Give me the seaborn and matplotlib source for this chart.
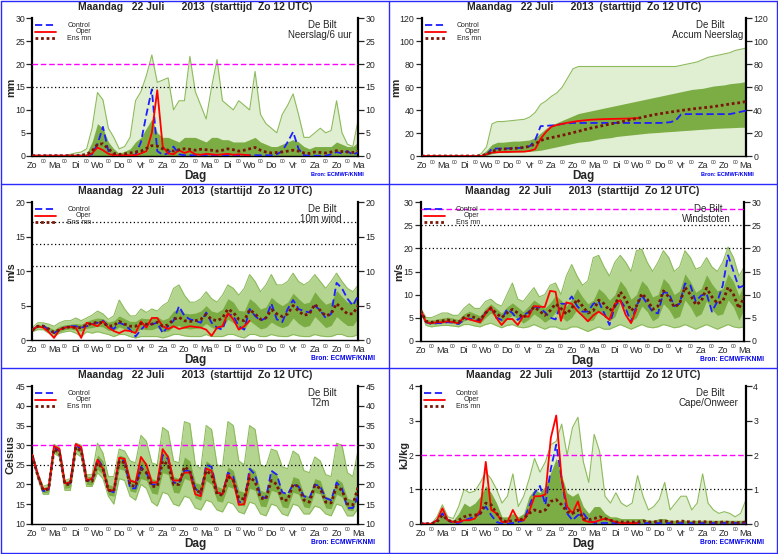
import numpy as np
import matplotlib
matplotlib.use("Agg")
import matplotlib.pyplot as plt
import seaborn as sns
from matplotlib.lines import Line2D

# ================================================================================
# Data (6-hourly steps from Zo 12 UTC, 0..360 h; Oper runs to 240 h)
# ================================================================================
HOURS      = np.arange(0, 361, 6)
OPER_HOURS = np.arange(0, 241, 6)
DAYS = ["Zo", "Ma", "Di", "Wo", "Do", "Vr", "Za", "Zo", "Ma", "Di", "Wo", "Do", "Vr", "Za", "Zo", "Ma"]
TITLE = "Maandag   22 Juli      2013  (starttijd  Zo 12 UTC)"

# Neerslag / 6 uur (mm)
RAIN_CONTROL = [0, 0, 0, 0, 0, 0, 0, 0, 0, 0,
                0, 0.3, 2.5, 6.3, 1.0, 0, 0, 0, 0, 0.2,
                3.0, 9.0, 14.5, 1.0, 0.2, 0.5, 2.0, 0.3, 0.1, 0.1,
                0.1, 0.1, 0.1, 0.1, 0.1, 0.1, 0.1, 0.1, 0.1, 0.1,
                0.1, 0.1, 0.1, 0.1, 0.1, 0.3, 1.0, 3.0, 5.2, 1.5,
                0.1, 0, 0, 0, 0, 0.3, 0.8, 0.5, 1.0, 0.2,
                0.8]
RAIN_OPER = [0, 0, 0, 0, 0, 0, 0, 0, 0, 0,
             0, 0.5, 1.8, 1.2, 0.4, 0.1, 0.1, 0.1, 0.1, 0.1,
             0.5, 1.0, 5.0, 14.3, 2.0, 0.5, 0.3, 1.2, 0.6, 1.0,
             0.3, 0.2, 0.4, 0.3, 0.2, 0.3, 0.4, 0.2, 0.3, 0.2,
             0.1]
RAIN_MEAN = [0, 0, 0, 0, 0, 0, 0, 0, 0, 0.1,
             0.3, 1.0, 2.5, 2.6, 1.5, 0.5, 0.3, 0.4, 0.6, 0.8,
             1.0, 1.6, 2.2, 2.1, 1.5, 1.2, 1.0, 1.3, 1.5, 1.4,
             1.2, 1.4, 1.3, 1.2, 1.0, 1.2, 1.5, 1.3, 1.0, 1.2,
             1.5, 1.8, 1.2, 0.8, 0.6, 0.7, 0.8, 1.0, 1.2, 1.0,
             0.6, 0.5, 0.8, 0.7, 0.6, 0.8, 1.1, 0.9, 0.8, 0.7,
             1.0]
RAIN_ENS_HI = [0, 0, 0, 0, 0, 0, 0, 0.3, 0.6, 0.8,
               1.5, 6.0, 13.8, 12.2, 6.0, 4.0, 1.5, 2.0, 4.0, 12.0,
               14.0, 17.5, 22.0, 16.0, 16.5, 17.0, 10.0, 12.0, 12.0, 21.7,
               14.0, 11.0, 8.0, 15.0, 21.0, 12.0, 11.0, 10.0, 12.0, 11.0,
               10.0, 18.4, 9.0, 7.0, 6.0, 5.0, 9.0, 11.0, 13.5, 9.0,
               4.0, 4.0, 5.0, 6.0, 5.0, 5.5, 12.0, 5.0, 2.5, 2.0,
               8.0]
RAIN_ENS_CORE = [0, 0, 0, 0, 0, 0, 0, 0, 0, 0,
                 0.5, 3.0, 7.0, 6.0, 3.0, 1.5, 0.5, 1.0, 1.5, 3.0,
                 4.0, 6.0, 8.0, 5.0, 4.0, 4.0, 3.5, 3.0, 4.0, 4.0,
                 4.0, 3.5, 3.0, 4.0, 4.0, 3.5, 3.5, 3.0, 3.0, 3.0,
                 3.5, 4.0, 3.0, 2.5, 2.0, 2.0, 2.5, 3.0, 3.5, 3.0,
                 2.0, 1.5, 2.0, 2.0, 2.0, 2.0, 3.0, 2.5, 2.0, 2.0,
                 3.0]

# Accumulated precipitation (mm)
ACC_CONTROL = [0, 0, 0, 0, 0, 0, 0, 0, 0, 0,
               0, 0, 1.0, 6.3, 6.5, 6.5, 6.6, 6.8, 7.0, 7.5,
               8.5, 14.0, 26.0, 26.3, 26.6, 27.0, 28.0, 28.5, 28.8, 28.8,
               28.8, 28.8, 28.8, 28.8, 28.8, 28.8, 28.8, 28.8, 28.8, 28.8,
               28.8, 28.8, 28.8, 28.8, 28.8, 29.0, 29.5, 31.0, 36.3, 36.5,
               36.5, 36.5, 36.5, 36.5, 36.5, 36.5, 36.5, 36.5, 37.5, 38.5,
               39.5]
ACC_OPER = [0, 0, 0, 0, 0, 0, 0, 0, 0, 0,
            0, 0, 1.5, 3.0, 3.3, 3.5, 3.6, 3.7, 3.8, 3.8,
            4.5, 6.0, 15.0, 21.0, 25.5, 27.0, 28.0, 29.0, 29.8, 30.5,
            31.0, 31.5, 31.8, 32.0, 32.2, 32.3, 32.4, 32.5, 32.6, 32.8,
            33.0]
ACC_MEAN = [0, 0, 0, 0, 0, 0, 0, 0, 0, 0,
            0, 0.3, 1.5, 4.0, 5.5, 6.0, 6.3, 6.6, 7.0, 7.5,
            8.5, 10.5, 13.5, 15.0, 16.0, 17.0, 18.0, 19.2, 20.4, 21.5,
            22.8, 24.0, 25.0, 26.0, 27.0, 28.0, 28.8, 29.8, 31.0, 32.0,
            32.8, 34.0, 35.0, 36.0, 36.8, 37.5, 38.3, 39.0, 39.7, 40.3,
            41.0, 41.5, 42.0, 42.5, 43.0, 43.8, 44.5, 45.3, 46.0, 46.5,
            47.5]
ACC_ENS_HI = [0, 0, 0, 0, 0, 0, 0, 0, 0, 0,
              0, 2.0, 8.0, 28.0, 30.0, 30.0, 30.5, 31.0, 31.5, 32.0,
              34.0, 38.0, 45.0, 48.0, 52.0, 55.0, 60.0, 68.0, 76.0, 78.0,
              78, 78, 78, 78, 78, 78, 78, 78, 78, 78,
              78, 78, 78, 78, 78, 78, 78, 78, 79, 80,
              81, 82, 84, 86, 87, 88, 89, 90, 92, 93,
              94]
ACC_CORE_LO = [0, 0, 0, 0, 0, 0, 0, 0, 0, 0,
               0, 0, 0.5, 2.0, 3.0, 3.0, 3.0, 3.5, 3.5, 4.0,
               4.0, 4.5, 5.0, 6.0, 7.0, 8.0, 9.0, 10.0, 11.0, 12.0,
               12.5, 13.0, 14.0, 15.0, 15.5, 16.0, 17.0, 17.5, 18.0, 18.5,
               19.0, 19.5, 20.0, 20.3, 20.6, 21.0, 21.3, 21.6, 22.0, 22.3,
               22.6, 23.0, 23.3, 23.6, 24.0, 24.2, 24.4, 24.6, 24.8, 25.0,
               25.0]
ACC_CORE_HI = [0, 0, 0, 0, 0, 0, 0, 0, 0, 0,
               0, 1.0, 5.0, 10.0, 12.0, 12.0, 12.5, 13.0, 13.0, 13.5,
               14.0, 16.0, 20.0, 24.0, 27.0, 29.0, 31.0, 33.0, 35.0, 37.0,
               38, 39, 40, 41, 42, 43, 44, 45, 46, 47,
               48, 49, 50, 51, 52, 53, 54, 55, 56, 57,
               58, 58.5, 59, 60, 61, 61.5, 62, 63, 63.5, 64,
               65]

# 10 m wind (m/s)
WIND_CONTROL = [1.5, 2.0, 2.1, 1.5, 1.0, 1.5, 1.8, 2.0, 2.0, 1.8,
                2.0, 2.3, 2.5, 2.8, 2.0, 1.6, 2.5, 2.2, 1.5, 0.5,
                1.5, 2.3, 2.3, 2.5, 1.0, 2.0, 2.8, 4.9, 3.5, 3.0,
                2.8, 2.5, 4.0, 2.5, 1.8, 1.5, 3.8, 3.5, 2.0, 1.5,
                4.5, 3.5, 2.8, 3.2, 5.3, 3.0, 2.6, 4.5, 5.8, 4.5,
                4.2, 4.0, 5.0, 4.3, 3.2, 3.8, 8.3, 7.5, 6.0, 5.0,
                6.5]
WIND_OPER = [1.5, 2.0, 1.8, 1.2, 0.3, 1.5, 1.8, 1.9, 1.8, 0.3,
             2.5, 2.3, 2.0, 2.7, 1.8, 1.3, 1.0, 1.4, 1.3, 1.0,
             2.7, 1.8, 3.2, 3.2, 2.0, 1.6, 2.0, 1.6, 1.8, 2.0,
             1.9, 1.8, 1.5, 0.6, 1.8, 2.0, 3.9, 3.0, 1.5, 2.0,
             2.8]
WIND_MEAN = [1.4, 2.0, 2.0, 1.6, 1.1, 1.5, 1.8, 1.9, 1.8, 1.8,
             2.2, 2.4, 2.6, 2.5, 2.0, 2.1, 2.7, 2.3, 2.0, 2.0,
             2.4, 2.3, 2.3, 2.6, 2.0, 2.2, 3.0, 3.3, 2.8, 2.7,
             2.8, 3.0, 3.7, 3.0, 2.8, 3.2, 4.5, 4.0, 3.0, 2.8,
             4.4, 3.8, 3.0, 3.2, 4.4, 3.8, 3.4, 3.8, 5.0, 4.2,
             3.6, 3.8, 5.2, 4.3, 3.5, 3.8, 5.3, 4.5, 3.8, 3.8,
             5.0]
WIND_ENS_HI = [1.8, 2.5, 2.5, 2.3, 2.0, 2.5, 2.8, 2.8, 3.2, 2.8,
               3.2, 3.6, 4.2, 3.8, 3.0, 3.5, 5.8, 4.5, 3.5, 3.5,
               4.5, 4.0, 4.5, 4.2, 5.0, 5.5, 7.5, 8.0, 6.5, 5.5,
               5.5, 6.0, 7.0, 6.0, 5.5, 6.5, 8.0, 7.5, 6.5, 7.5,
               9.5, 8.5, 7.0, 8.0, 9.5, 8.0, 8.0, 8.5, 9.7, 8.5,
               8.0, 8.5, 9.5, 8.5, 7.5, 8.5, 9.7, 8.5, 7.5, 7.0,
               8.0]
WIND_ENS_LO = [1.2, 1.5, 1.5, 1.0, 0.5, 1.0, 1.2, 1.3, 1.0, 0.5,
               1.2, 1.0, 1.2, 1.0, 0.8, 0.5, 0.8, 0.8, 0.5, 0.3,
               0.5, 0.5, 0.5, 0.5, 0.3, 0.5, 0.8, 0.8, 0.6, 0.5,
               0.5, 0.5, 0.8, 0.5, 0.5, 0.5, 0.8, 0.8, 0.5, 0.3,
               0.8, 0.8, 0.5, 0.5, 0.8, 0.6, 0.5, 0.5, 0.8, 0.6,
               0.5, 0.5, 0.8, 0.6, 0.5, 0.5, 0.8, 0.8, 0.5, 0.5,
               0.8]
WIND_CORE_HI = [1.6, 2.2, 2.2, 1.9, 1.5, 2.0, 2.2, 2.3, 2.4, 2.3,
                2.7, 3.0, 3.2, 3.1, 2.6, 2.8, 3.5, 3.1, 2.7, 2.7,
                3.2, 3.1, 3.1, 3.4, 2.9, 3.2, 4.2, 4.5, 3.9, 3.8,
                3.9, 4.2, 5.0, 4.2, 4.0, 4.5, 6.0, 5.5, 4.3, 4.2,
                6.0, 5.4, 4.5, 4.8, 6.2, 5.5, 5.0, 5.5, 6.8, 6.0,
                5.3, 5.5, 7.0, 6.0, 5.2, 5.5, 7.2, 6.3, 5.5, 5.5,
                6.8]
WIND_CORE_LO = [1.3, 1.8, 1.8, 1.3, 0.8, 1.2, 1.5, 1.6, 1.4, 1.3,
                1.7, 1.8, 2.0, 1.9, 1.4, 1.4, 1.9, 1.6, 1.3, 1.2,
                1.6, 1.5, 1.5, 1.8, 1.2, 1.3, 1.9, 2.1, 1.7, 1.6,
                1.7, 1.8, 2.4, 1.8, 1.6, 1.9, 3.0, 2.5, 1.7, 1.5,
                2.8, 2.2, 1.6, 1.8, 2.6, 2.1, 1.8, 2.1, 3.2, 2.4,
                1.9, 2.1, 3.4, 2.6, 1.8, 2.1, 3.4, 2.7, 2.1, 2.1,
                3.2]

# Windstoten (m/s)
GUST_CONTROL = [6.5, 4.0, 3.6, 3.8, 3.8, 4.0, 3.9, 3.6, 4.5, 4.8,
                4.5, 4.2, 6.0, 7.2, 5.0, 4.5, 6.8, 6.0, 4.5, 5.5,
                6.2, 7.4, 7.2, 6.2, 5.0, 4.6, 8.0, 8.0, 9.6, 7.5,
                6.3, 6.3, 8.0, 8.5, 6.0, 3.4, 7.5, 8.8, 7.0, 4.0,
                7.5, 9.8, 8.0, 6.3, 5.9, 10.5, 10.3, 7.5, 8.0, 12.4,
                12.0, 8.5, 9.8, 10.2, 6.3, 8.5, 12.0, 18.5, 15.0, 11.5,
                12.0]
GUST_OPER = [6.5, 4.0, 3.8, 4.0, 4.0, 4.2, 4.0, 3.8, 5.0, 4.6,
             4.3, 4.0, 5.8, 7.3, 5.0, 3.4, 4.7, 4.7, 3.4, 5.3,
             5.2, 7.5, 7.4, 7.3, 10.8, 10.6, 4.3, 8.3, 8.0, 6.5,
             5.4, 4.2, 5.5, 6.3, 5.5, 4.5, 8.0, 8.8, 5.6, 3.8,
             6.8]
GUST_MEAN = [6.5, 4.2, 4.0, 4.2, 4.3, 4.5, 4.3, 4.0, 5.0, 5.5,
             5.0, 4.5, 6.0, 7.0, 6.0, 5.0, 6.0, 6.8, 6.0, 5.0,
             6.0, 7.3, 6.5, 5.5, 6.5, 8.0, 7.0, 5.8, 7.0, 9.0,
             7.5, 6.0, 6.5, 8.8, 8.0, 6.5, 7.5, 10.6, 9.0, 6.5,
             7.5, 10.2, 9.0, 6.8, 7.5, 10.8, 9.5, 7.3, 8.0, 11.6,
             10.0, 7.8, 8.5, 11.4, 9.5, 8.1, 8.5, 11.6, 10.0, 7.0,
             9.6]
GUST_ENS_HI = [7.0, 5.0, 5.0, 5.5, 6.0, 6.0, 5.5, 5.5, 7.0, 8.0,
               7.0, 7.0, 8.5, 9.0, 8.0, 7.5, 10.0, 12.5, 9.0, 8.5,
               10.0, 11.5, 9.5, 10.0, 12.0, 12.5, 10.0, 14.0, 16.5, 14.0,
               12.0, 13.0, 18.0, 18.5, 16.0, 14.0, 17.0, 18.5, 17.0, 15.0,
               19.5, 19.8, 17.0, 15.0, 17.0, 19.5, 18.0, 15.0, 16.0, 19.5,
               18.0, 15.5, 16.0, 18.0, 16.0, 15.0, 17.0, 20.3, 18.0, 14.0,
               16.0]
GUST_ENS_LO = [6.2, 3.3, 3.0, 3.2, 3.3, 3.3, 3.2, 3.0, 3.5, 3.5,
               3.2, 3.0, 3.5, 3.8, 3.3, 2.8, 3.3, 3.5, 3.0, 2.8,
               3.0, 3.5, 3.0, 2.5, 3.0, 3.0, 2.5, 2.5, 3.0, 3.0,
               2.5, 2.0, 2.5, 3.0, 2.5, 2.5, 3.0, 3.5, 3.0, 2.5,
               3.0, 3.5, 3.0, 2.8, 3.0, 3.5, 3.2, 2.8, 3.0, 3.5,
               3.0, 2.5, 3.0, 3.5, 3.0, 2.5, 3.0, 3.5, 3.0, 2.8,
               3.0]
GUST_CORE_HI = [6.7, 4.6, 4.4, 4.7, 4.9, 5.1, 4.9, 4.6, 5.8, 6.4,
                5.9, 5.4, 7.0, 8.0, 7.0, 6.0, 7.3, 8.2, 7.3, 6.3,
                7.5, 8.8, 8.0, 7.0, 8.2, 9.8, 8.8, 7.5, 9.0, 11.3,
                9.5, 8.0, 8.8, 11.3, 10.3, 8.8, 10.0, 13.0, 11.5, 9.0,
                10.0, 13.0, 11.8, 9.5, 10.0, 13.5, 12.3, 10.0, 10.8, 14.5,
                12.8, 10.5, 11.3, 14.3, 12.3, 10.8, 11.3, 14.5, 12.8, 9.8,
                12.5]
GUST_CORE_LO = [6.3, 3.8, 3.6, 3.7, 3.8, 4.0, 3.8, 3.5, 4.3, 4.7,
                4.2, 3.7, 5.0, 6.0, 5.0, 4.0, 4.8, 5.5, 4.8, 3.8,
                4.6, 5.8, 5.0, 4.0, 4.8, 6.2, 5.3, 4.2, 5.0, 6.8,
                5.5, 4.2, 4.5, 6.5, 5.8, 4.3, 5.2, 8.2, 6.6, 4.2,
                5.0, 7.5, 6.3, 4.3, 5.0, 8.0, 6.8, 4.8, 5.3, 8.8,
                7.3, 5.2, 5.8, 8.6, 6.8, 5.5, 5.8, 8.8, 7.3, 4.5,
                6.8]

# T2m (Celsius)
T2M_CONTROL = [27.5, 22.5, 18.3, 18.5, 29.5, 28.5, 20.0, 20.3, 30.0, 29.0,
               21.0, 21.0, 26.5, 24.5, 18.5, 18.0, 26.5, 26.0, 19.0, 19.0,
               24.5, 23.0, 20.0, 20.0, 27.5, 26.5, 20.5, 20.3, 23.5, 23.5,
               19.0, 17.5, 25.0, 24.5, 18.0, 17.5, 23.0, 22.0, 15.5, 15.5,
               24.0, 22.5, 17.0, 16.5, 23.5, 22.5, 18.0, 17.5, 20.0, 19.5,
               17.0, 16.5, 20.0, 19.5, 16.5, 16.0, 20.5, 19.0, 14.0, 14.0,
               17.0]
T2M_OPER = [27.5, 22.5, 18.8, 19.0, 29.8, 29.0, 20.3, 20.5, 30.3, 29.5,
            21.0, 21.5, 26.3, 24.0, 18.5, 18.5, 26.8, 26.5, 21.0, 20.5,
            27.0, 25.0, 20.5, 20.5, 29.0, 27.0, 21.0, 21.0, 23.0, 23.0,
            17.5, 17.0, 24.0, 23.5, 18.0, 17.5, 22.5, 21.0, 14.8, 15.0,
            22.5]
T2M_MEAN = [27.3, 22.3, 18.5, 18.8, 29.0, 28.0, 20.0, 20.0, 29.5, 28.5,
            21.0, 20.8, 25.5, 24.0, 18.5, 18.3, 26.0, 25.5, 19.8, 19.5,
            24.0, 23.0, 19.5, 19.5, 26.0, 25.0, 20.0, 20.0, 24.5, 23.5,
            18.5, 18.0, 23.5, 22.5, 17.5, 17.3, 22.0, 21.0, 16.5, 16.3,
            21.8, 20.8, 16.5, 16.3, 21.0, 20.0, 16.0, 16.0, 20.0, 19.5,
            16.0, 15.5, 19.8, 19.0, 15.5, 15.3, 19.5, 18.5, 15.0, 14.8,
            19.5]
T2M_ENS_HI = [28.0, 23.0, 19.5, 20.0, 30.2, 29.5, 21.0, 21.5, 30.5, 30.0,
              22.5, 22.5, 30.5, 28.0, 22.0, 22.0, 29.0, 28.5, 26.0, 25.5,
              32.5, 31.0, 25.5, 25.0, 34.5, 33.5, 26.0, 25.5, 36.0, 35.5,
              25.0, 24.0, 35.0, 34.0, 25.0, 24.5, 36.0, 35.0, 26.0, 25.0,
              35.0, 34.0, 25.0, 24.5, 29.0, 28.5, 24.5, 24.0, 28.5, 27.5,
              23.5, 23.0, 27.0, 26.0, 22.5, 22.0, 30.5, 30.0, 23.0, 22.0,
              29.0]
T2M_ENS_LO = [27.0, 21.5, 17.5, 17.5, 28.0, 27.0, 18.5, 18.5, 28.0, 27.0,
              19.5, 19.5, 23.0, 21.5, 17.0, 15.0, 21.5, 21.0, 17.0, 16.0,
              20.0, 19.0, 15.5, 14.5, 18.0, 17.5, 15.0, 14.5, 17.0, 16.5,
              14.0, 13.5, 16.0, 15.5, 13.5, 13.0, 15.5, 15.0, 13.0, 12.5,
              15.5, 15.0, 12.5, 12.0, 15.0, 14.5, 12.5, 12.0, 15.0, 14.5,
              12.5, 12.5, 14.5, 14.0, 12.5, 12.0, 15.0, 14.5, 12.0, 12.0,
              14.0]
T2M_CORE_HI = [27.8, 22.8, 19.2, 19.5, 29.8, 29.0, 20.8, 21.0, 30.2, 29.5,
               22.0, 22.0, 27.5, 26.0, 20.0, 19.5, 27.5, 27.0, 21.5, 21.0,
               26.5, 25.5, 21.5, 21.0, 28.5, 27.5, 22.0, 21.5, 27.0, 26.0,
               20.5, 20.0, 26.0, 25.0, 19.5, 19.0, 24.5, 23.5, 18.5, 18.0,
               24.5, 23.5, 18.5, 18.0, 23.5, 22.5, 18.0, 17.5, 22.0, 21.5,
               17.5, 17.0, 21.5, 21.0, 17.0, 16.5, 21.5, 20.5, 16.5, 16.0,
               21.5]
T2M_CORE_LO = [27.0, 21.8, 17.8, 18.0, 28.3, 27.3, 19.0, 19.2, 28.7, 27.8,
               20.0, 19.8, 23.8, 22.5, 17.3, 17.0, 24.0, 23.5, 18.3, 18.0,
               21.5, 21.0, 17.8, 17.5, 23.0, 22.5, 18.0, 17.8, 21.5, 21.0,
               16.5, 16.0, 21.0, 20.0, 15.8, 15.5, 19.5, 19.0, 14.8, 14.5,
               19.0, 18.5, 14.5, 14.3, 18.5, 18.0, 14.3, 14.0, 18.0, 17.5,
               14.3, 14.0, 18.0, 17.5, 14.0, 13.8, 17.5, 16.8, 13.5, 13.3,
               17.5]

# Cape / Onweer (kJ/kg)
CAPE_CONTROL = [0, 0, 0, 0.1, 0.3, 0.1, 0.02, 0.02, 0.1, 0.15,
                0.2, 0.3, 0.5, 0.25, 0.05, 0, 0, 0.02, 0.05, 0.1,
                0.5, 0.9, 1.1, 0.55, 1.6, 2.3, 1.3, 0.3, 0.1, 0.25,
                0.3, 0.1, 0.02, 0.02, 0.02, 0.02, 0.02, 0.02, 0.02, 0.02,
                0.02, 0.02, 0.02, 0.02, 0.02, 0.02, 0.02, 0.02, 0.02, 0.02,
                0.02, 0.02, 0.02, 0.02, 0.02, 0.02, 0.02, 0.02, 0.02, 0.02,
                0.02]
CAPE_OPER = [0, 0, 0, 0.1, 0.45, 0.1, 0.05, 0.05, 0.1, 0.1,
             0.15, 0.4, 1.8, 0.4, 0.3, 0.05, 0.05, 0.4, 0.1, 0.1,
             0.35, 0.8, 0.8, 0.85, 2.5, 3.15, 1.3, 0.5, 0.3, 0.65,
             0.1, 0.05, 0.05, 0.1, 0.15, 0.1, 0.05, 0.02, 0.02, 0.02,
             0.02]
CAPE_MEAN = [0, 0, 0, 0.05, 0.25, 0.1, 0.05, 0.1, 0.2, 0.25,
             0.25, 0.3, 0.6, 0.55, 0.3, 0.1, 0.05, 0.1, 0.1, 0.15,
             0.3, 0.4, 0.35, 0.4, 0.65, 0.7, 0.55, 0.35, 0.3, 0.4,
             0.15, 0.12, 0.15, 0.2, 0.15, 0.1, 0.05, 0.05, 0.05, 0.05,
             0.05, 0.08, 0.05, 0.05, 0.08, 0.08, 0.05, 0.05, 0.08, 0.06,
             0.05, 0.05, 0.06, 0.05, 0.04, 0.04, 0.05, 0.04, 0.03, 0.03,
             0.05]
CAPE_ENS_HI = [0, 0, 0, 0.2, 0.55, 0.2, 0.15, 0.5, 1.0, 0.9,
               0.95, 1.2, 1.5, 1.3, 1.0, 0.6, 0.8, 1.45, 0.5, 0.8,
               1.3, 1.9, 1.5, 1.8, 2.3, 2.4, 2.9, 2.0, 2.8, 3.1,
               1.8, 1.2, 2.6, 2.1, 0.8, 0.6, 0.9, 0.6, 0.5, 0.6,
               1.4, 0.8, 0.4, 0.5, 0.7, 1.2, 0.4, 0.6, 0.8, 0.8,
               0.4, 0.6, 1.45, 0.6, 0.4, 0.3, 0.35, 0.3, 0.2, 0.3,
               0.7]
CAPE_ENS_CORE = [0, 0, 0, 0.1, 0.45, 0.15, 0.1, 0.3, 0.6, 0.5,
                 0.6, 0.8, 1.1, 0.9, 0.6, 0.2, 0.2, 0.3, 0.2, 0.3,
                 0.8, 1.0, 0.9, 1.1, 1.5, 1.9, 1.4, 0.9, 0.8, 0.9,
                 0.5, 0.3, 0.5, 0.5, 0.3, 0.2, 0.2, 0.15, 0.15, 0.15,
                 0.15, 0.15, 0.1, 0.1, 0.15, 0.15, 0.1, 0.1, 0.1, 0.1,
                 0.1, 0.1, 0.1, 0.1, 0.1, 0.1, 0.1, 0.1, 0.1, 0.1,
                 0.1]


# ================================================================================
# Styling
# ================================================================================
sns.set_style("white")
plt.rcParams["font.family"] = ["Liberation Sans", "DejaVu Sans"]

W, H = 778, 554
GREEN_EDGE   = "#8dbb5c"
GREEN_SPARSE = "#e0eed1"   # outer plume where members are few
GREEN_DENSE  = "#b4d590"   # outer plume where members are many
GREEN_CORE   = "#7cad45"
BLUE         = "#1e1eff"
RED          = "#ff0000"
BROWN        = "#7a1608"
MAGENTA      = "#ff00ff"
FRAME_BLUE   = "#2a2aff"


def frac(x, y):
    """Pixel position (from top-left) -> figure fraction."""
    return x / W, 1 - y / H


def draw_panel(fig, box, control, oper, mean, ens_hi, core_hi, ens_lo=None, core_lo=None,
               ylim=(0, 30), ystep=5, ylabel="mm", ylabel_dx=21, station="", refs=(), small_bron=False):
    l, t, r, b = box
    ax = fig.add_axes([l / W, 1 - b / H, (r - l) / W, (b - t) / H])

    hi = np.asarray(ens_hi, dtype=float)
    lo = np.zeros_like(hi) if ens_lo is None else np.asarray(ens_lo, dtype=float)
    clo = np.zeros_like(hi) if core_lo is None else np.asarray(core_lo, dtype=float)

    # Ensemble plume: sparse outer envelope, dense core
    outer = GREEN_DENSE if ens_lo is not None else GREEN_SPARSE
    ax.fill_between(HOURS, lo, hi, color=outer, lw=0, zorder=1)
    ax.fill_between(HOURS, clo, core_hi, color=GREEN_CORE, lw=0, zorder=1.5)
    sns.lineplot(x=HOURS, y=hi, ax=ax, color=GREEN_EDGE, linewidth=0.8, zorder=2)
    if ens_lo is not None:
        sns.lineplot(x=HOURS, y=lo, ax=ax, color=GREEN_EDGE, linewidth=0.8, zorder=2)

    # Threshold lines
    for val, kind in refs:
        if kind == "warn":
            ax.axhline(val, color=MAGENTA, lw=1.0, ls=(0, (4, 2)), zorder=3)
        else:
            ax.axhline(val, color="black", lw=0.9, ls=(0, (1, 2)), zorder=3)

    # Control / Oper / Ensemble mean
    sns.lineplot(x=HOURS, y=control, ax=ax, color=BLUE, linewidth=1.3, linestyle=(0, (4, 2)), zorder=5)
    sns.lineplot(x=OPER_HOURS, y=oper, ax=ax, color=RED, linewidth=1.3, zorder=6)
    sns.lineplot(x=HOURS, y=mean, ax=ax, color=BROWN, linewidth=2.0,
                 linestyle=(0, (1, 1)), zorder=7)

    # Axes
    ax.set_xlim(0, 360)
    ax.set_ylim(*ylim)
    ax.set_xticks(np.arange(0, 361, 24), labels=DAYS)
    ax.set_xticks(np.arange(12, 360, 24), labels=["00"] * 15, minor=True)
    ax.set_yticks(np.arange(ylim[0], ylim[1] + 0.01, ystep))
    ax.tick_params(axis="x", which="major", labelsize=6.5, length=2.5, width=0.8, pad=1.2, direction="out")
    ax.tick_params(axis="x", which="minor", labelsize=3.6, length=2.5, width=0.8, pad=0.2, direction="out")
    ax.tick_params(axis="y", which="major", labelsize=6.3, length=4, width=0.9, pad=1.2, direction="out",
                   left=True, right=True, labelleft=True, labelright=True)
    ax.set_xlabel("")
    ax.set_ylabel("")
    ax.spines["top"].set_visible(False)
    ax.spines["left"].set_linewidth(1.6)
    ax.spines["right"].set_linewidth(1.6)
    ax.spines["bottom"].set_linewidth(1.0)
    for s in ("left", "right", "bottom"):
        ax.spines[s].set_color("black")
    ax.set_facecolor("white")

    # Texts
    cx = (l + r) / 2
    fig.text(*frac(cx, t - 10.8), TITLE, ha="center", va="center", fontsize=7.5, fontweight="bold")
    fig.text(*frac(cx, b + 20.5), "Dag", ha="center", va="center", fontsize=8.5, fontweight="bold")
    fig.text(*frac(l - ylabel_dx, (t + b) / 2), ylabel, ha="center", va="center", rotation=90,
             fontsize=7.8, fontweight="bold")
    fig.text(*frac(l + 279, b + 18.5), "Bron: ECMWF/KNMI", ha="left", va="center", color="#0000ee",
             fontsize=4.0 if small_bron else 4.8, fontweight="bold")
    fig.text(*frac(r - 36, t + 6.5), "De Bilt", ha="center", va="center", fontsize=7)
    fig.text(*frac(r - 38, t + 17), station, ha="center", va="center", fontsize=7)

    # Legend
    legend = [("Control", BLUE, (0, (4, 2)), 1.3, 7.0, 35),
              ("Oper", RED, "-", 1.3, 13.5, 43),
              ("Ens mn", BROWN, (0, (1, 1)), 2.0, 20.0, 35)]
    for name, col, ls, lw, dy, tx in legend:
        x0, y0 = frac(l + 3, t + dy)
        x1, _ = frac(l + 24, t + dy)
        fig.add_artist(Line2D([x0, x1], [y0, y0], transform=fig.transFigure, color=col, ls=ls, lw=lw))
        fig.text(*frac(l + tx, t + dy), name, ha="left", va="center", fontsize=5, color="#222222")
    return ax


fig = plt.figure(figsize=(W / 100, H / 100), dpi=100)

draw_panel(fig, (32.3, 18.3, 358.3, 155.7), RAIN_CONTROL, RAIN_OPER, RAIN_MEAN, RAIN_ENS_HI, RAIN_ENS_CORE,
           ylim=(0, 30), ystep=5, ylabel="mm", station="Neerslag/6 uur",
           refs=[(20, "warn"), (15, "dot")], small_bron=True)
draw_panel(fig, (421.7, 18.3, 746.0, 156.0), ACC_CONTROL, ACC_OPER, ACC_MEAN, ACC_ENS_HI, ACC_CORE_HI,
           core_lo=ACC_CORE_LO, ylim=(0, 120), ystep=20, ylabel="mm", ylabel_dx=25,
           station="Accum Neerslag", small_bron=True)
draw_panel(fig, (32.3, 202.3, 358.3, 340.0), WIND_CONTROL, WIND_OPER, WIND_MEAN, WIND_ENS_HI, WIND_CORE_HI,
           ens_lo=WIND_ENS_LO, core_lo=WIND_CORE_LO, ylim=(0, 20), ystep=5, ylabel="m/s",
           station="10m wind", refs=[(10.8, "dot"), (13.9, "dot"), (17.2, "dot")])
draw_panel(fig, (420.7, 202.3, 744.3, 340.7), GUST_CONTROL, GUST_OPER, GUST_MEAN, GUST_ENS_HI, GUST_CORE_HI,
           ens_lo=GUST_ENS_LO, core_lo=GUST_CORE_LO, ylim=(0, 30), ystep=5, ylabel="m/s",
           station="Windstoten", refs=[(28.5, "warn"), (25, "dot"), (20, "dot")])
draw_panel(fig, (32.3, 386.3, 358.3, 523.7), T2M_CONTROL, T2M_OPER, T2M_MEAN, T2M_ENS_HI, T2M_CORE_HI,
           ens_lo=T2M_ENS_LO, core_lo=T2M_CORE_LO, ylim=(10, 45), ystep=5, ylabel="Celsius",
           ylabel_dx=22, station="T2m", refs=[(30, "warn"), (25, "dot")])
draw_panel(fig, (420.7, 386.3, 746.0, 523.7), CAPE_CONTROL, CAPE_OPER, CAPE_MEAN, CAPE_ENS_HI, CAPE_ENS_CORE,
           ylim=(0, 4), ystep=1, ylabel="kJ/kg", ylabel_dx=16, station="Cape/Onweer",
           refs=[(2, "warn"), (1, "dot")])

# Blue frame and separators
for xs, ys in [((0.5, 777.5), (0.8, 0.8)), ((0.5, 777.5), (552.5, 552.5)),
               ((0.8, 0.8), (0.5, 552.5)), ((776.5, 776.5), (0.5, 552.5)),
               ((389, 389), (0.5, 552.5)), ((0.5, 777.5), (184, 184)), ((0.5, 777.5), (368, 368))]:
    p0 = frac(xs[0], ys[0])
    p1 = frac(xs[1], ys[1])
    fig.add_artist(Line2D([p0[0], p1[0]], [p0[1], p1[1]], transform=fig.transFigure,
                          color=FRAME_BLUE, lw=1.0))

fig.savefig("out.png", dpi=100)
